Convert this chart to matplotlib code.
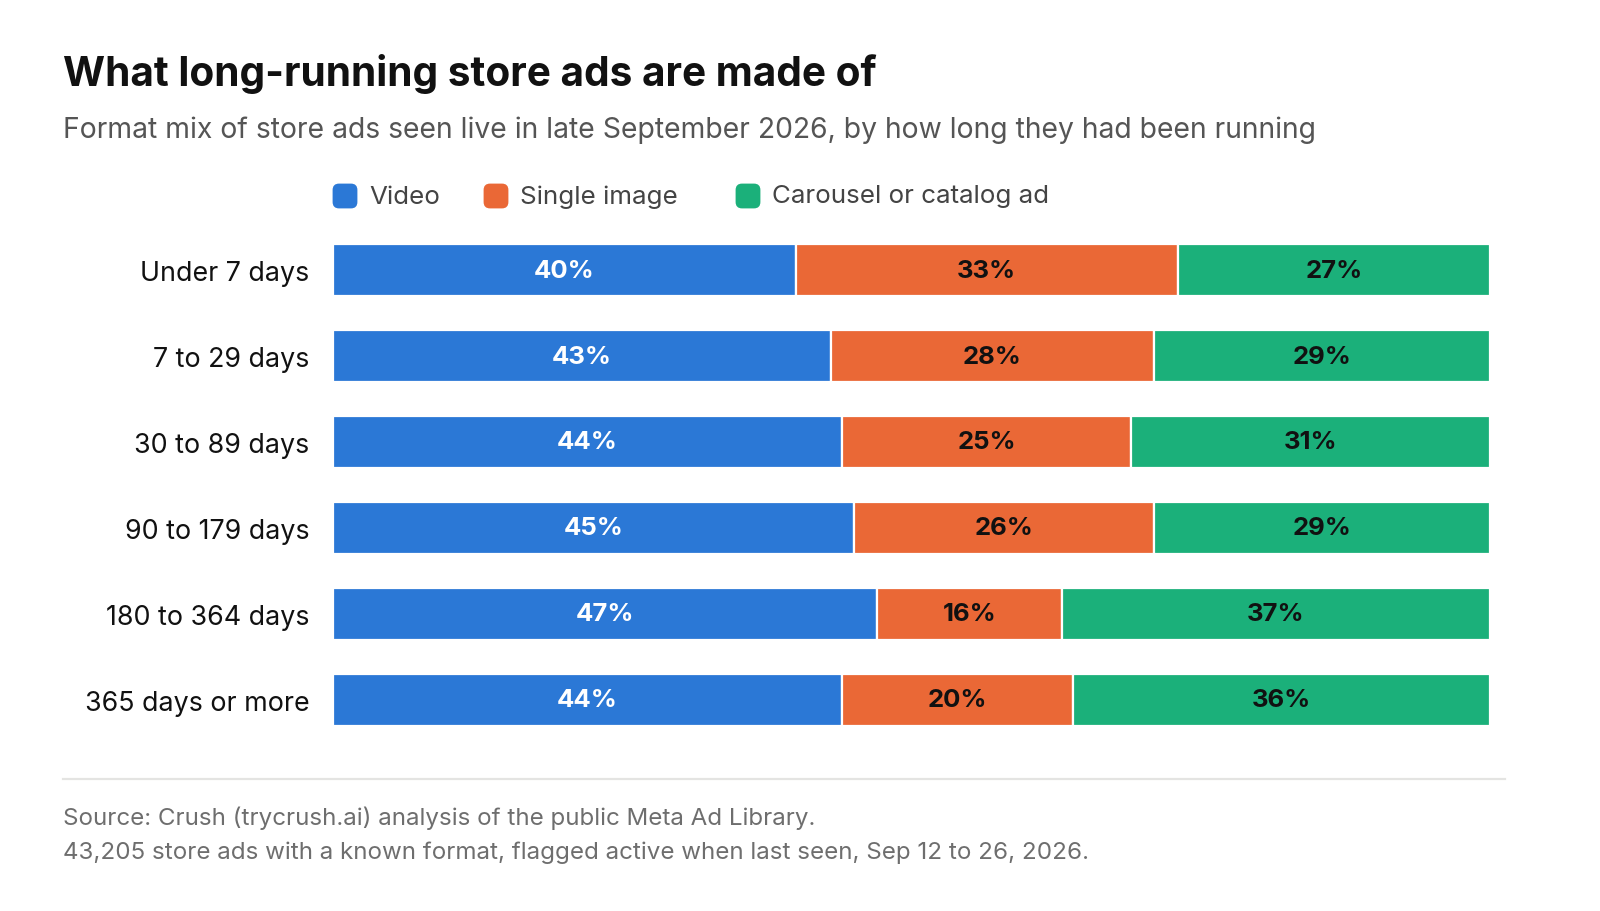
import matplotlib
matplotlib.use("Agg")
import matplotlib.pyplot as plt
from matplotlib.patches import FancyBboxPatch
import numpy as np

plt.rcParams['font.family'] = ['Inter', 'DejaVu Sans']

categories = ["Under 7 days", "7 to 29 days", "30 to 89 days", "90 to 179 days",
              "180 to 364 days", "365 days or more"]
series_names = ["Video", "Single image", "Carousel or catalog ad"]
video = [40, 43, 44, 45, 47, 44]
single_image = [33, 28, 25, 26, 16, 20]
carousel = [27, 29, 31, 29, 37, 36]

colors = ["#2B78D6", "#EA6836", "#1BB07A"]
label_colors = ["white", "#111111", "#111111"]

W, H = 1600, 912
fig = plt.figure(figsize=(16, 9.12), dpi=100)
fig.patch.set_facecolor("white")

ax_left, ax_right = 333 / W, 1490 / W
ax_top, ax_bot = 228, 744
ax = fig.add_axes([ax_left, 1 - ax_bot / H, ax_right - ax_left, (ax_bot - ax_top) / H])

y = np.arange(len(categories))
values = [video, single_image, carousel]
left = np.zeros(len(categories))
for vals, c, lc in zip(values, colors, label_colors):
    vals = np.array(vals, dtype=float)
    ax.barh(y, vals, left=left, height=0.61, color=c, edgecolor="white", linewidth=1.6)
    for yi, l, v in zip(y, left, vals):
        ax.text(l + v / 2, yi, f"{int(v)}%", ha="center", va="center",
                color=lc, fontsize=18.5, fontweight="bold")
    left += vals

ax.set_xlim(0, 100)
ax.set_ylim(len(categories) - 0.5, -0.5)
ax.set_yticks(y)
ax.set_yticklabels(categories, fontsize=19.3, color="#111111")
ax.tick_params(axis="y", length=0, pad=17)
ax.set_xticks([])
for s in ax.spines.values():
    s.set_visible(False)

# Title and subtitle
fig.text(63 / W, 1 - 74 / H, "What long-running store ads are made of", fontsize=29.2,
         fontweight="bold", color="#111111", va="center", ha="left")
fig.text(63 / W, 1 - 130 / H,
         "Format mix of store ads seen live in late September 2026, by how long they had been running",
         fontsize=20.4, color="#555555", va="center", ha="left")

# Legend
leg_x = [333, 484, 736]
leg_y = 197
for name, c, lx in zip(series_names, colors, leg_x):
    box = FancyBboxPatch(((lx + 2) / W, 1 - (leg_y + 10) / H), 20 / W, 20 / H,
                         boxstyle="round,pad=0.0015,rounding_size=0.004",
                         transform=fig.transFigure, facecolor=c, edgecolor="none",
                         mutation_aspect=W / H)
    fig.patches.append(box)
    fig.text((lx + 36) / W, 1 - leg_y / H, name, fontsize=18.7, color="#444444",
             va="center", ha="left")

# Separator
fig.add_artist(plt.Line2D([63 / W, 1505 / W], [1 - 780 / H, 1 - 780 / H],
                          color="#E4E4E2", linewidth=1.6, transform=fig.transFigure))

fig.text(63 / W, 1 - 818 / H, "Source: Crush (trycrush.ai) analysis of the public Meta Ad Library.",
         fontsize=17.4, color="#6E6E6E", va="center", ha="left")
fig.text(63 / W, 1 - 853 / H,
         "43,205 store ads with a known format, flagged active when last seen, Sep 12 to 26, 2026.",
         fontsize=17.4, color="#6E6E6E", va="center", ha="left")

fig.savefig("out.png", dpi=100, facecolor="white")
